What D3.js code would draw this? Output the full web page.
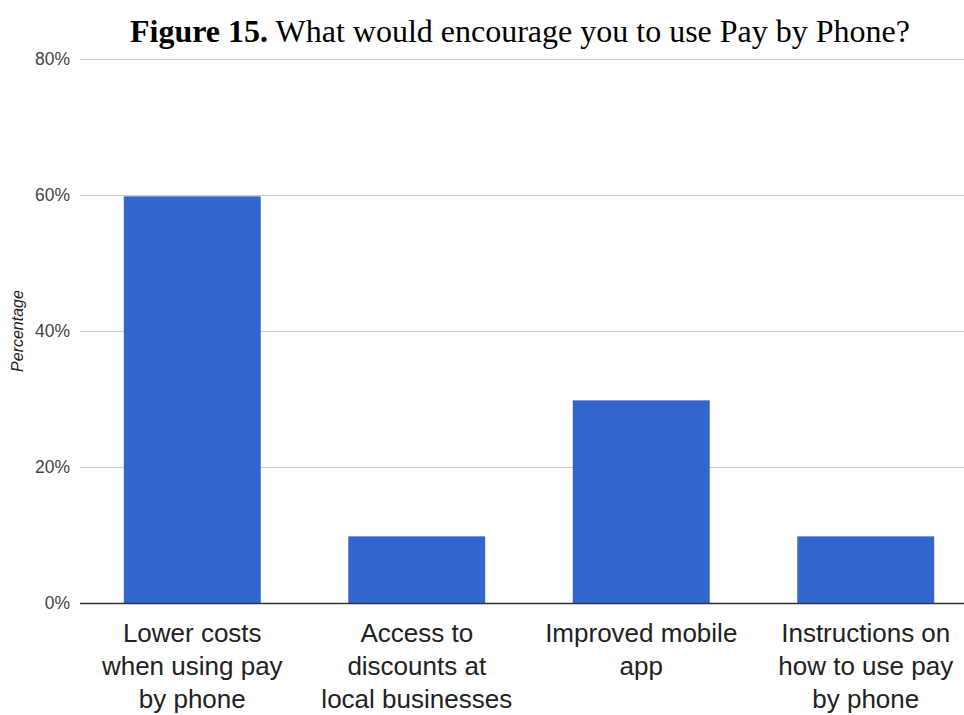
<!DOCTYPE html>
<html>
<head>
<meta charset="utf-8">
<script src="https://cdn.jsdelivr.net/npm/d3@7"></script>
<style>
  html, body { margin: 0; padding: 0; background: #fff; }
  svg { display: block; }
</style>
</head>
<body>
<svg id="chart" width="964" height="715"></svg>
<script>
// Survey responses: what would encourage use of Pay by Phone
const categories = [
  ["Lower costs", "when using pay", "by phone"],
  ["Access to", "discounts at", "local businesses"],
  ["Improved mobile", "app"],
  ["Instructions on", "how to use pay", "by phone"]
];
const values = [59.8, 9.8, 29.8, 9.8];
const yTicks = [0, 20, 40, 60, 80];

const svg = d3.select("#chart");
const margin = { left: 80, right: -14, top: 59, bottom: 112 };
const W = 964, H = 715;

const x = d3.scaleBand()
  .domain(d3.range(categories.length))
  .range([margin.left, W - margin.right])
  .paddingInner(0.39)
  .paddingOuter(0.195);

const y = d3.scaleLinear()
  .domain([0, 80])
  .range([H - margin.bottom, margin.top]);

// Title
const title = svg.append("text")
  .attr("x", 520)
  .attr("y", 42)
  .attr("text-anchor", "middle")
  .style("font-family", "'Liberation Serif', 'Times New Roman', serif")
  .style("font-size", "32px")
  .style("fill", "#000");
title.append("tspan").style("font-weight", "bold").text("Figure 15.");
title.append("tspan").text(" What would encourage you to use Pay by Phone?");

// Gridlines
svg.append("g")
  .selectAll("line")
  .data(yTicks.filter(d => d > 0))
  .join("line")
  .attr("x1", margin.left)
  .attr("x2", W)
  .attr("y1", d => Math.round(y(d)) + 0.5)
  .attr("y2", d => Math.round(y(d)) + 0.5)
  .attr("stroke", "#cccccc")
  .attr("stroke-width", 1);

// Y axis tick labels
const yAxis = d3.axisLeft(y)
  .tickValues(yTicks)
  .tickFormat(d => d + "%")
  .tickSize(0)
  .tickPadding(10);
const yg = svg.append("g")
  .attr("transform", `translate(${margin.left},0)`)
  .call(yAxis);
yg.select(".domain").remove();
yg.selectAll("text")
  .style("font-family", "'Liberation Sans', Arial, sans-serif")
  .style("font-size", "17.5px")
  .style("fill", "#444");

// Y axis title
svg.append("text")
  .attr("transform", `translate(23,${(y(0) + y(80)) / 2}) rotate(-90)`)
  .attr("text-anchor", "middle")
  .style("font-family", "'Liberation Sans', Arial, sans-serif")
  .style("font-size", "16px")
  .style("font-style", "italic")
  .style("fill", "#222")
  .text("Percentage");

// Bars
svg.append("g")
  .selectAll("rect")
  .data(values)
  .join("rect")
  .attr("x", (d, i) => x(i))
  .attr("y", d => y(d))
  .attr("width", x.bandwidth())
  .attr("height", d => y(0) - y(d))
  .attr("fill", "#3366cc");

// Baseline
svg.append("line")
  .attr("x1", margin.left)
  .attr("x2", W)
  .attr("y1", Math.round(y(0)) + 0.5)
  .attr("y2", Math.round(y(0)) + 0.5)
  .attr("stroke", "#333")
  .attr("stroke-width", 1.5);

// Category labels (wrapped onto up to three lines)
const xl = svg.append("g")
  .selectAll("text")
  .data(categories)
  .join("text")
  .attr("x", (d, i) => x(i) + x.bandwidth() / 2)
  .attr("y", y(0) + 39)
  .attr("text-anchor", "middle")
  .style("font-family", "'Liberation Sans', Arial, sans-serif")
  .style("font-size", "26px")
  .style("fill", "#222");
xl.selectAll("tspan")
  .data(d => d)
  .join("tspan")
  .attr("x", function () { return d3.select(this.parentNode).attr("x"); })
  .attr("dy", (d, i) => i === 0 ? 0 : 33)
  .text(d => d);
</script>
</body>
</html>
